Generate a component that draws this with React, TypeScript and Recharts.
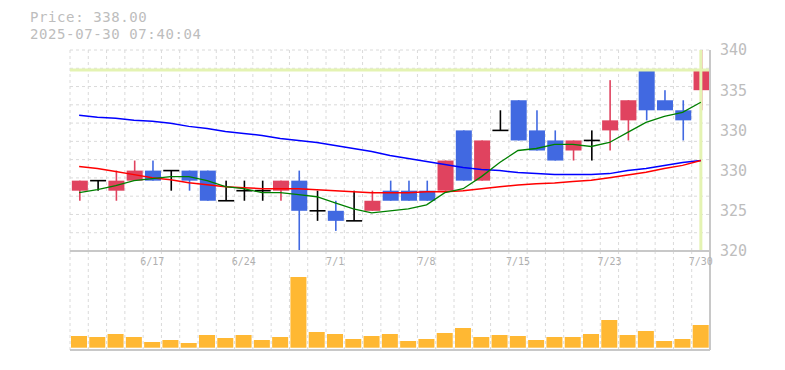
import { ComposedChart, Bar, Line, XAxis, YAxis, CartesianGrid, ReferenceLine } from "recharts";

const dates = [
  "6/11", "6/12", "6/13", "6/16", "6/17", "6/18", "6/19", "6/20", "6/23", "6/24", "6/25", "6/26", "6/27", "6/30",
  "7/1", "7/2", "7/3", "7/4", "7/7", "7/8", "7/9", "7/10", "7/11", "7/14", "7/15", "7/16", "7/17", "7/18",
  "7/22", "7/23", "7/24", "7/25", "7/28", "7/29", "7/30",
];
const opens = [326, 327, 326, 327, 328, 328, 328, 328, 325, 326, 326, 326, 327, 324, 324, 323, 324, 326, 326, 326, 326, 332, 327, 332, 335, 332, 331, 330, 331, 332, 333, 338, 335, 334, 336];
const highs = [327, 327, 328, 329, 329, 328, 328, 328, 327, 327, 327, 327, 328, 326, 325, 326, 326, 327, 327, 327, 329, 332, 331, 334, 335, 334, 332, 331, 332, 337, 335, 338, 336, 335, 340];
const lows = [325, 326, 325, 327, 327, 326, 326, 325, 325, 325, 325, 325, 320, 323, 322, 323, 324, 325, 325, 325, 326, 327, 327, 332, 331, 330, 329, 329, 329, 330, 331, 333, 334, 331, 334];
const closes = [327, 327, 327, 328, 327, 328, 327, 325, 325, 326, 326, 327, 324, 324, 323, 323, 325, 325, 325, 325, 329, 327, 331, 332, 331, 330, 329, 331, 331, 333, 335, 334, 334, 333, 338];
const volumes = [11700, 10700, 13700, 10700, 5700, 7700, 4700, 12700, 9700, 12700, 7700, 10700, 70700, 15700, 13700, 8700, 11700, 13700, 6700, 8700, 14700, 19700, 10700, 12700, 11700, 7700, 10700, 10700, 13700, 27700, 12700, 16700, 6700, 8700, 22700];
const ma5 = [325.8, 326.1, 326.5, 327.0, 327.2, 327.4, 327.4, 327.0, 326.4, 326.2, 325.8, 325.8, 325.6, 325.4, 324.8, 324.2, 323.8, 324.0, 324.2, 324.6, 325.8, 326.2, 327.4, 328.8, 330.0, 330.2, 330.6, 330.6, 330.4, 330.8, 331.8, 332.8, 333.4, 333.8, 334.8];
const ma25 = [328.4, 328.2, 327.9, 327.6, 327.3, 327.1, 326.8, 326.6, 326.4, 326.3, 326.2, 326.2, 326.2, 326.1, 326.0, 325.9, 325.8, 325.8, 325.8, 325.9, 325.9, 326.0, 326.2, 326.4, 326.56, 326.68, 326.76, 326.92, 327.04, 327.28, 327.56, 327.84, 328.2, 328.52, 329.0];
const ma75 = [333.5, 333.3, 333.2, 333.0, 332.9, 332.7, 332.4, 332.2, 331.9, 331.7, 331.5, 331.2, 331.0, 330.8, 330.5, 330.2, 329.9, 329.5, 329.2, 328.9, 328.6, 328.3, 328.1, 328.0, 327.8, 327.7, 327.6, 327.6, 327.6, 327.7, 328.0, 328.2, 328.5, 328.8, 329.0];

const dateTicks = ["6/17", "6/24", "7/1", "7/8", "7/15", "7/23", "7/30"];
const yTicks = [320, 324, 328, 332, 336, 340];
const yTickLabels = ["320", "325", "330", "330", "335", "340"];
const lastPrice = 338;
const lastDate = "7/30";
const priceText = "Price: 338.00";
const timeText = "2025-07-30 07:40:04";

const MONO = "'DejaVu Sans Mono', monospace";
const UP = "#e0435f";
const DOWN = "#4169e1";
const BORDER = "#c8c8c8";
const GRID = "#dadada";
const MARK = "#e4f3b2";
const VOL = "#ffb833";
const GRID_ROWS = 11;

const data = dates.map((date, i) => ({
  date,
  open: opens[i],
  high: highs[i],
  low: lows[i],
  close: closes[i],
  volume: volumes[i],
  ma5: ma5[i],
  ma25: ma25[i],
  ma75: ma75[i],
}));

// grid columns sit on the day boundaries, rows split the price band in 11
const dayLines = ({ offset }: any) =>
  Array.from({ length: dates.length }, (_, i) => offset.left + (i * offset.width) / dates.length);
const rowLines = ({ offset }: any) =>
  Array.from({ length: GRID_ROWS }, (_, i) => offset.top + (i * offset.height) / GRID_ROWS);

function Candle(props: any) {
  const { x, y, width, height, payload } = props;
  const top = Math.min(y, y + height);
  const bottom = Math.max(y, y + height);
  const { open, high, low, close } = payload;
  const ppu = (bottom - top) / (high - low);
  const yOf = (p: number) => top + (high - p) * ppu;
  const cx = x + width / 2 + 0.5;
  const bw = 16;
  if (open === close) {
    return (
      <g>
        <rect x={cx - 0.8} y={top} width={1.6} height={bottom - top} fill="#000" />
        <rect x={cx - bw / 2} y={yOf(open) - 0.8} width={bw} height={1.6} fill="#000" />
      </g>
    );
  }
  const color = close > open ? UP : DOWN;
  const bTop = yOf(Math.max(open, close));
  const bBot = yOf(Math.min(open, close));
  return (
    <g>
      <rect x={cx - 0.8} y={top} width={1.6} height={bottom - top} fill={color} />
      <rect x={cx - bw / 2} y={bTop} width={bw} height={bBot - bTop} fill={color} />
    </g>
  );
}

export default function App() {
  return (
    <div style={{ position: "absolute", left: 0, top: 0, width: 785, height: 370, background: "#fff" }}>
      <div style={{ position: "absolute", left: 0, top: 0 }}>
        <ComposedChart width={785} height={370} data={data} margin={{ top: 251, right: 0, bottom: 19, left: 70 }}>
          <XAxis dataKey="date" tick={false} tickLine={false} axisLine={{ stroke: BORDER, strokeWidth: 2 }} height={1} />
          <YAxis orientation="right" domain={[-2300, 96700]} width={75} tick={false} tickLine={false} axisLine={{ stroke: BORDER, strokeWidth: 2 }} />
          <CartesianGrid horizontal={false} verticalCoordinatesGenerator={dayLines} stroke={GRID} strokeDasharray="3 3" />
          <Bar dataKey="volume" fill={VOL} barSize={16} isAnimationActive={false} />
        </ComposedChart>
      </div>
      <div style={{ position: "absolute", left: 0, top: 0 }}>
        <ComposedChart width={785} height={370} data={data} margin={{ top: 50, right: 0, bottom: 105, left: 70 }}>
          <XAxis
            dataKey="date"
            ticks={dateTicks}
            interval={0}
            axisLine={{ stroke: BORDER, strokeWidth: 2 }}
            tickLine={false}
            tickSize={0}
            tickMargin={7}
            height={14}
            tick={{ fontSize: 10, fill: "#b0b0b0", fontFamily: MONO }}
          />
          <YAxis
            orientation="right"
            domain={[320, 340]}
            ticks={yTicks}
            interval={0}
            tickFormatter={(v: number) => yTickLabels[yTicks.indexOf(v)]}
            width={75}
            axisLine={{ stroke: BORDER, strokeWidth: 2 }}
            tickLine={false}
            tickSize={0}
            tickMargin={10}
            tick={{ fontSize: 15, fill: "#bdbdbd", fontFamily: MONO }}
          />
          <CartesianGrid
            verticalCoordinatesGenerator={dayLines}
            horizontalCoordinatesGenerator={rowLines}
            stroke={GRID}
            strokeDasharray="3 3"
          />
          <ReferenceLine y={lastPrice} stroke={MARK} strokeWidth={3} />
          <ReferenceLine x={lastDate} stroke={MARK} strokeWidth={3} />
          <Line dataKey="ma75" stroke="#0000ff" strokeWidth={1.5} dot={false} type="linear" isAnimationActive={false} />
          <Line dataKey="ma25" stroke="#ff0000" strokeWidth={1.5} dot={false} type="linear" isAnimationActive={false} />
          <Line dataKey="ma5" stroke="#008000" strokeWidth={1.3} dot={false} type="linear" isAnimationActive={false} />
          <Bar dataKey={(d: any) => [d.low, d.high]} shape={(p: any) => <Candle {...p} />} isAnimationActive={false} />
        </ComposedChart>
      </div>
      <div
        style={{
          position: "absolute",
          left: 30,
          top: 9,
          fontFamily: MONO,
          fontSize: 14,
          letterSpacing: "0.6px",
          lineHeight: "16.5px",
          color: "#bdbdbd",
          whiteSpace: "pre",
        }}
      >
        <div>{priceText}</div>
        <div>{timeText}</div>
      </div>
    </div>
  );
}
